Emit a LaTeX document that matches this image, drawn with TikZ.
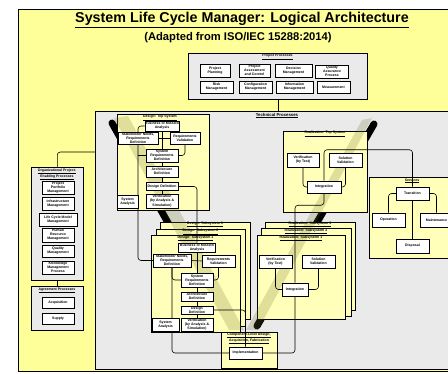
\documentclass[tikz,border=0pt]{standalone}
\usepackage{fontspec}
\setmainfont{Liberation Sans}
\usetikzlibrary{shadows}
\pgfdeclarelayer{back}
\pgfdeclarelayer{links}
\pgfsetlayers{back,links,main}
\definecolor{bgyellow}{RGB}{255,255,153}
\definecolor{boxyellow}{RGB}{255,255,185}
\definecolor{panelgray}{RGB}{234,234,234}
\definecolor{bandcol}{RGB}{110,110,40}
\tikzset{
  frame/.style={draw, fill=bgyellow, line width=0.8pt, anchor=north west, inner sep=0pt},
  panel/.style={draw, fill=panelgray, line width=0.6pt, anchor=north west, inner sep=0pt,
    drop shadow={shadow xshift=0.8pt, shadow yshift=-0.8pt, opacity=1, fill=black!80}},
  ybox/.style={draw, fill=boxyellow, line width=0.6pt, anchor=north west, inner sep=0pt},
  wbox/.style={draw, fill=white, line width=0.5pt, align=center, inner sep=0.2pt,
    font=\fontsize{3.5}{4.1}\selectfont\bfseries,
    drop shadow={shadow xshift=0.7pt, shadow yshift=-0.7pt, opacity=1, fill=black!80}},
  ptitle/.style={font=\fontsize{3.5}{4.1}\selectfont\bfseries, inner sep=0pt, align=center},
  link/.style={line width=0.6pt, rounded corners=3pt},
  coneedge/.style={line width=7pt, line cap=round, black},
  coneband/.style={fill=bandcol, opacity=0.22},
}
\begin{document}
\begin{tikzpicture}[x=1pt,y=-1pt]
\useasboundingbox (0,0) rectangle (448,374);
\clip (0,0) rectangle (448,374);

\begin{pgfonlayer}{back}
\fill[white] (0,0) rectangle (448,374);
\node[frame, minimum width=460pt, minimum height=362pt] (bg) at (18,9) {};

% process groups
\node[panel, minimum width=179pt, minimum height=46pt] (proj) at (188,53) {};
\node[panel, minimum width=375pt, minimum height=258pt] (tech) at (95,111) {};
\node[panel, minimum width=52pt, minimum height=113pt] (org) at (31,167) {};
\node[panel, minimum width=52pt, minimum height=44pt] (agr) at (31,286) {};

% dark edges of the decomposition cones
\draw[coneedge] (112,123) -- (226,326);
\draw[coneedge] (374,124) -- (257,326);

% technical process stages
\node[ybox, minimum width=101pt, minimum height=81pt] (svc) at (369,177) {};
\node[ybox, minimum width=92pt, minimum height=96pt] (dts) at (117,114) {};
\node[ybox, minimum width=84pt, minimum height=81pt] (rts) at (283,131) {};
\node[ybox, minimum width=90pt, minimum height=97pt] (ds3) at (160,222) {};
\node[ybox, minimum width=89pt, minimum height=97pt] (ds2) at (156,229) {};
\node[ybox, minimum width=89pt, minimum height=97pt] (ds1) at (151,235) {};
\node[ybox, minimum width=90pt, minimum height=88pt] (rs3) at (265,222) {};
\node[ybox, minimum width=90pt, minimum height=88pt] (rs2) at (261,228) {};
\node[ybox, minimum width=88pt, minimum height=84pt] (rs1) at (257,235) {};
\node[ybox, minimum width=56pt, minimum height=36pt] (comp) at (221,332) {};

% translucent cone bodies
\fill[coneband] (114,118) -- (128,116) -- (244,330) -- (229,330) -- cycle;
\fill[coneband] (362,120) -- (372,118) -- (258,330) -- (246,330) -- cycle;
\end{pgfonlayer}

% headings
\node[font=\fontsize{14.3}{16}\selectfont\bfseries, inner sep=0pt] (title) at (242,20)
  {\underline{System Life Cycle Manager: Logical Architecture}};
\node[font=\fontsize{11.2}{13}\selectfont\bfseries, inner sep=0pt] (subtitle) at (238,38)
  {(Adapted from ISO/IEC 15288:2014)};

\node[ptitle] (projT) at (277.5,57) {\underline{Project Processes}};
\node[ptitle, font=\fontsize{4.3}{5}\selectfont\bfseries] (techT) at (277,115.5) {\underline{Technical Processes}};
\node[ptitle] (orgT) at (57,174.5) {\underline{Organizational Project-}\\\underline{Enabling Processes}};
\node[ptitle] (agrT) at (57,290.5) {\underline{Agreement Processes}};
\node[ptitle] (dtsT) at (160,118) {\underline{Design: Top System}};
\node[ptitle] (rtsT) at (325,134) {\underline{Realization: Top System}};
\node[ptitle] (svcT) at (412,181) {\underline{Services}};
\node[ptitle] (ds3T) at (205,224.5) {\underline{Design: Subsystem 3}};
\node[ptitle] (ds2T) at (200.5,232) {\underline{Design: Subsystem 2}};
\node[ptitle] (ds1T) at (195.5,238.5) {\underline{Design: Subsystem 1}};
\node[ptitle] (rs3T) at (310,224.5) {\underline{Realization: Subsystem 3}};
\node[ptitle] (rs2T) at (306,231.5) {\underline{Realization: Subsystem 2}};
\node[ptitle] (rs1T) at (301,238.5) {\underline{Realization: Subsystem 1}};
\node[ptitle] (compT) at (249,338.5) {\underline{Component-Level Design,}\\\underline{Acquisition, Fabrication}};

% project processes
\node[wbox, minimum width=30pt, minimum height=13pt] (pp)  at (215,70.5) {Project\\Planning};
\node[wbox, minimum width=31pt, minimum height=13pt] (pac) at (254.5,70.5) {Project\\Assessment\\and Control};
\node[wbox, minimum width=37pt, minimum height=13pt] (dm)  at (293.5,70.5) {Decision\\Management};
\node[wbox, minimum width=33pt, minimum height=13pt] (qap) at (332,71.5) {Quality\\Assurance\\Process};
\node[wbox, minimum width=33pt, minimum height=12pt] (risk) at (216.5,87) {Risk\\Management};
\node[wbox, minimum width=33pt, minimum height=12pt] (conf) at (255.5,87) {Configuration\\Management};
\node[wbox, minimum width=37pt, minimum height=12pt] (info) at (294.5,87) {Information\\Management};
\node[wbox, minimum width=33pt, minimum height=12pt] (meas) at (333.5,87) {Measurement};

% organizational project-enabling processes
\node[wbox, minimum width=32pt, minimum height=13pt] (ppm)  at (58,187.5) {Project\\Portfolio\\Management};
\node[wbox, minimum width=32pt, minimum height=13pt] (infr) at (58,203.5) {Infrastructure\\Management};
\node[wbox, minimum width=38pt, minimum height=13pt] (lcmm) at (58,219.5) {Life Cycle Model\\Management};
\node[wbox, minimum width=32pt, minimum height=14pt] (hrm)  at (58,235) {Human\\Resource\\Management};
\node[wbox, minimum width=32pt, minimum height=12pt] (qm)   at (58,251) {Quality\\Management};
\node[wbox, minimum width=32pt, minimum height=13pt] (kmp)  at (58,267.5) {Knowledge\\Management\\Process};

% agreement processes
\node[wbox, minimum width=32pt, minimum height=11pt] (acq) at (58,302.5) {Acquisition};
\node[wbox, minimum width=32pt, minimum height=11pt] (sup) at (58,318.5) {Supply};

% design: top system
\node[wbox, minimum width=33pt, minimum height=10pt] (tbma) at (162,126) {Business or Mission\\Analysis};
\node[wbox, minimum width=40pt, minimum height=12pt] (tsn)  at (138,138) {Stakeholder Needs,\\Requirements\\Definition};
\node[wbox, minimum width=30pt, minimum height=12pt] (trv)  at (185,138) {Requirements\\Validation};
\node[wbox, minimum width=32pt, minimum height=13pt] (tsr)  at (162,155.5) {System\\Requirements\\Definition};
\node[wbox, minimum width=32pt, minimum height=11pt] (tad)  at (162,171.5) {Architecture\\Definition};
\node[wbox, minimum width=32pt, minimum height=8pt]  (tdd)  at (162,186.5) {Design Definition};
\node[wbox, minimum width=32pt, minimum height=14pt] (tva)  at (162,201) {Verification\\(by Analysis \&\\Simulation)};
\node[wbox, minimum width=21pt, minimum height=13pt] (tsa)  at (127.5,201.5) {System\\Analysis};

% design: subsystem 1
\node[wbox, minimum width=37pt, minimum height=9pt]  (sbma) at (197,247.5) {Business or Mission\\Analysis};
\node[wbox, minimum width=38pt, minimum height=13pt] (ssn)  at (172,260.5) {Stakeholder Needs,\\Requirements\\Definition};
\node[wbox, minimum width=33pt, minimum height=12pt] (srv)  at (218.5,261) {Requirements\\Validation};
\node[wbox, minimum width=32pt, minimum height=14pt] (ssr)  at (197,280) {System\\Requirements\\Definition};
\node[wbox, minimum width=32pt, minimum height=9pt]  (sad)  at (197,296.5) {Architecture\\Definition};
\node[wbox, minimum width=32pt, minimum height=8pt]  (sdd)  at (197,310) {Design\\Definition};
\node[wbox, minimum width=32pt, minimum height=13pt] (sva)  at (197,324.5) {Verification\\(by Analysis \&\\Simulation)};
\node[wbox, minimum width=27pt, minimum height=13pt] (ssa)  at (165.5,324.5) {System\\Analysis};

% realization
\node[wbox, minimum width=32pt, minimum height=14pt] (tvt)  at (303,160) {Verification\\(by Test)};
\node[wbox, minimum width=33pt, minimum height=14pt] (tsv)  at (345.5,160) {Solution\\Validation};
\node[wbox, minimum width=34pt, minimum height=12pt] (tint) at (324,187) {Integration};
\node[wbox, minimum width=33pt, minimum height=13pt] (svt)  at (275.5,261.5) {Verification\\(by Test)};
\node[wbox, minimum width=33pt, minimum height=13pt] (ssv)  at (318.5,261.5) {Solution\\Validation};
\node[wbox, minimum width=26pt, minimum height=13pt] (sint) at (295,289.5) {Integration};
\node[wbox, minimum width=33pt, minimum height=12pt] (impl) at (245.5,353) {Implementation};

% services
\node[wbox, minimum width=33pt, minimum height=13pt] (tra) at (412.5,193.5) {Transition};
\node[wbox, minimum width=33pt, minimum height=14pt] (ope) at (388.5,220) {Operation};
\node[wbox, minimum width=33pt, minimum height=14pt] (mai) at (436.5,220) {Maintenance};
\node[wbox, minimum width=33pt, minimum height=14pt] (dis) at (412.5,246) {Disposal};

% connectors, kept beneath the process boxes
\begin{pgfonlayer}{links}
\draw[link] (proj.south) -- (proj.south |- tech.north);
\draw[link] (tech.north west) ++(0,41) -| (org.north);
\draw[link] (org.south) -- (agr.north);
% design: top system
\draw[link] (tsn.east) -- (trv.west);
\draw[link] (tbma.south) -- (tbma.south |- tva.north);
\draw[link] (trv.south) |- (tsr.east);
\draw[link] (tbma.west) -| (tsn.center |- ssn.west) -- (ssn.west);
\draw[link] (tsr.west) -- (tsr.west -| tsn.center);
\draw[link] (tdd.east) -| (sbma.north);
% design: subsystem
\draw[link] (ssn.east) -- (srv.west);
\draw[link] (sbma.south) -- (sbma.south |- sva.north);
\draw[link] (srv.south) |- (ssr.east);
\draw[link] (ssn.south) |- (ssr.west);
\draw[link] (ssn.south) |- (impl.west);
\draw[link] (sdd.east) -| (impl.north);
% realization
\draw[link] (tvt.south) |- (tint.west);
\draw[link] (tsv.south) |- (tint.east);
\draw[link] (tint.north) -- ++(0,-31) -| (tra.north);
\draw[link] (tint.south) -- ++(0,12) -| (sint.north);
\draw[link] (svt.south) |- (sint.west);
\draw[link] (ssv.south) |- (sint.east);
\draw[link] (sint.south) |- (impl.east);
% services
\draw[link] (tra.west) -| (ope.north);
\draw[link] (tra.east) -| (mai.north);
\draw[link] (tra.south) -- (dis.north);
\end{pgfonlayer}
\end{tikzpicture}
\end{document}
